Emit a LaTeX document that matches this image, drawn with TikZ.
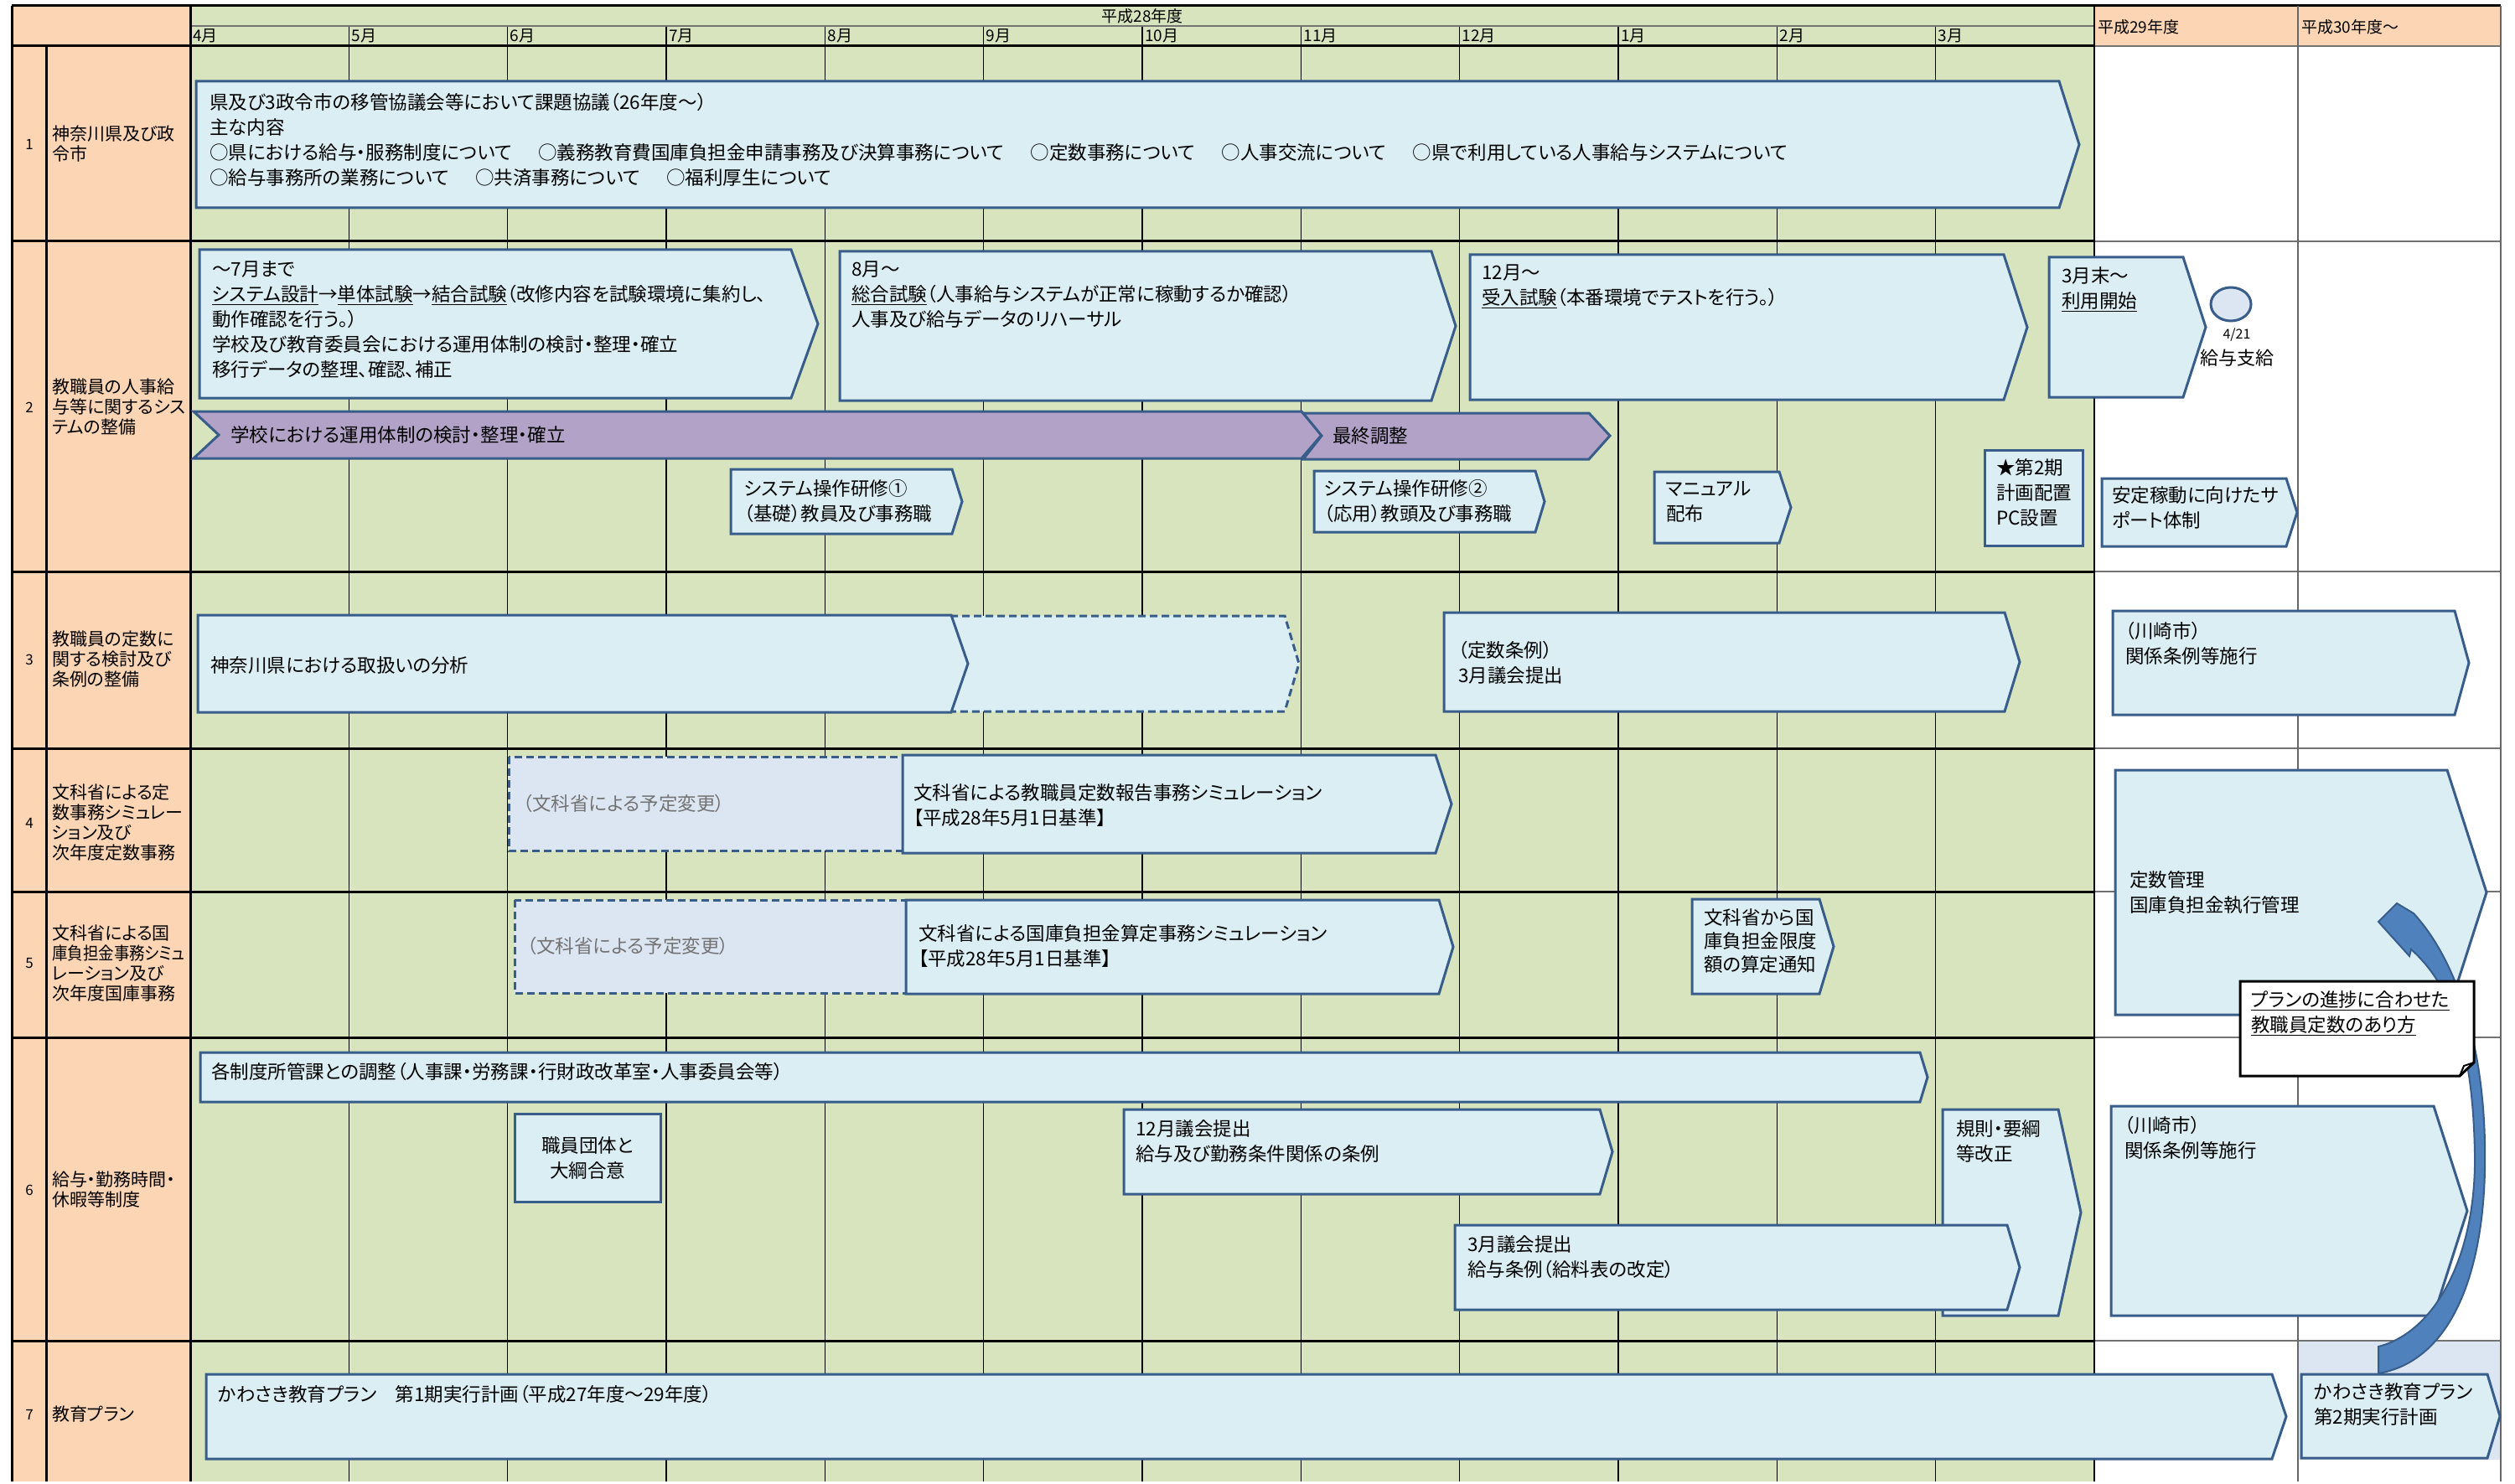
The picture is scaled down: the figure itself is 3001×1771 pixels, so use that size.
\documentclass[tikz,border=0pt]{standalone}
\usepackage{fontspec}
\setmainfont{Noto Sans CJK JP}[RawFeature=+palt]
\usetikzlibrary{shapes.geometric}
\definecolor{grn}{HTML}{D7E4BD}
\definecolor{peach}{HTML}{FCD5B5}
\definecolor{boxfill}{HTML}{DBEEF4}
\definecolor{boxline}{HTML}{385D8A}
\definecolor{dashfill}{HTML}{DCE6F2}
\definecolor{purp}{HTML}{B3A2C7}
\definecolor{arrblue}{HTML}{4F81BD}
\newcommand\pentbox[6][bar]{\draw[#1] (#2,#3) -- (#4,#3) -- (#5,{(#3+#6)/2}) -- (#4,#6) -- (#2,#6) -- cycle;}
\newcommand\gap{\hspace{1.4em}}
\begin{document}
\begin{tikzpicture}[x=1pt, y=-1pt,
    bar/.style={fill=boxfill, draw=boxline, line width=3pt, line join=miter},
    dbar/.style={bar, dash pattern=on 9pt off 5pt},
    chev/.style={bar, fill=purp},
    txt/.style={anchor=west, align=left, inner sep=0pt, font=\fontsize{22.5}{30}\selectfont},
    lab/.style={txt, font=\fontsize{21}{24}\selectfont},
    hd/.style={anchor=west, inner sep=0pt, font=\fontsize{19}{22}\selectfont},
    num/.style={inner sep=0pt, font=\fontsize{17}{20}\selectfont}]
\useasboundingbox (0,0) rectangle (3001,1771);
\fill[white] (0,0) rectangle (3001,1771);
\fill[peach] (14,7) rectangle (227,1768);
\fill[grn] (227,7) rectangle (2499,1768);
\fill[peach] (2499,7) rectangle (2984,55);
\fill[dashfill] (2742,1600) rectangle (2984,1742);
\foreach \i in {1,...,11}
    \draw[line width=1.3pt] ({227+189.33*\i},31) -- ({227+189.33*\i},1768);
\foreach \y in {55,288,682,893,1064,1238,1600}
{
    \draw[line width=3pt] (14,\y) -- (2499,\y);
    \draw[line width=2pt, black!55] (2499,\y) -- (2984,\y);
}
\draw[line width=2pt, black!55] (227,31) -- (2499,31);
\draw[line width=3pt] (14,7) -- (2984,7);
\draw[line width=3pt] (14,7) -- (14,1768) (227,7) -- (227,1768) (55,55) -- (55,1768);
\draw[line width=2pt] (2499,7) -- (2499,1768);
\draw[line width=1.5pt, black!60] (2742,7) -- (2742,1768) (2984,7) -- (2984,1768);
\node[hd, anchor=center] (fy28) at (1363,19) {平成28年度};
\node[hd] (fy29) at (2503,32) {平成29年度};
\node[hd] (fy30) at (2746,32) {平成30年度～};
\foreach \m [count=\i from 0] in {4,5,6,7,8,9,10,11,12,1,2,3}
    \node[hd] (m\i) at ({230+189.33*\i},43) {{\m}月};
\foreach \n/\y/\t in {1/172/{神奈川県及び政\\令市},
    2/486/{教職員の人事給\\与等に関するシス\\テムの整備},
    3/787/{教職員の定数に\\関する検討及び\\条例の整備},
    4/982/{文科省による定\\数事務シミュレー\\ション及び\\次年度定数事務},
    5/1150/{文科省による国\\\scalebox{0.88}[1]{庫負担金事務シミュ}\\レーション及び\\次年度国庫事務},
    6/1420/{給与・勤務時間・\\休暇等制度},
    7/1688/{教育プラン}}
{
    \node[num] (n\n) at (35,\y) {\n};
    \node[lab] (l\n) at (62,\y) {\t};
}
\pentbox{234}{97}{2457}{2481}{248}
\node[txt] (kyogi) at (250,167) {県及び3政令市の移管協議会等において課題協議（26年度～）\\主な内容\\○県における給与・服務制度について\gap○義務教育費国庫負担金申請事務及び決算事務について\gap○定数事務について\gap○人事交流について\gap○県で利用している人事給与システムについて\\○給与事務所の業務について\gap○共済事務について\gap○福利厚生について};
\pentbox{238}{298}{944}{976}{475}
\node[txt] (sekkei) at (253,382) {～7月まで\\\underline{システム設計}→\underline{単体試験}→\underline{結合試験}（改修内容を試験環境に集約し、\\動作確認を行う。）\\学校及び教育委員会における運用体制の検討・整理・確立\\移行データの整理、確認、補正};
\draw[chev] (231,491) -- (1553,491) -- (1577,519) -- (1553,547) -- (231,547) -- (261,519) -- cycle;
\draw[chev] (1555,493) -- (1896,493) -- (1921,520) -- (1896,548) -- (1555,548) -- (1577,520) -- cycle;
\node[txt] (unyo) at (275,519) {学校における運用体制の検討・整理・確立};
\node[txt] (saishu) at (1590,520) {最終調整};
\pentbox{1002}{300}{1708}{1737}{478}
\node[txt] (sogo) at (1016,352) {8月～\\\underline{総合試験}（人事給与システムが正常に稼動するか確認）\\人事及び給与データのリハーサル};
\pentbox{1754}{304}{2391}{2419}{477}
\node[txt] (ukeire) at (1768,342) {12月～\\\underline{受入試験}（本番環境でテストを行う。）};
\pentbox{2445}{307}{2605}{2632}{474}
\node[txt] (riyo) at (2460,345) {3月末～\\\underline{利用開始}};
\node[draw=boxline, fill=dashfill, line width=3pt, ellipse, minimum width=48pt, minimum height=40pt, inner sep=0pt] (pay) at (2662,363) {};
\node[num, font=\fontsize{16}{18}\selectfont] (payday) at (2669,400) {4/21};
\node[num, font=\fontsize{22}{24}\selectfont] (kyuyo) at (2669,427) {給与支給};
\pentbox{872}{560}{1136}{1148}{637}
\node[txt] (kenshu1) at (888,598) {システム操作研修①\\（基礎）教員及び事務職};
\pentbox{1568}{562}{1832}{1843}{635}
\node[txt] (kenshu2) at (1580,598) {システム操作研修②\\（応用）教頭及び事務職};
\pentbox{1974}{563}{2123}{2137}{648}
\node[txt] (manual) at (1988,599) {マニュアル\\配布};
\draw[bar] (2368,537) rectangle (2485,651);
\node[txt] (pc) at (2382,588) {★第2期\\計画配置\\PC設置};
\pentbox{2508}{571}{2728}{2741}{652}
\node[txt] (support) at (2520,606) {安定稼動に向けたサ\\ポート体制};
\pentbox[dbar]{1120}{735}{1533}{1550}{849}
\pentbox{236}{734}{1135}{1155}{850}
\node[txt] (bunseki) at (251,794) {神奈川県における取扱いの分析};
\pentbox{1723}{731}{2392}{2410}{849}
\node[txt] (jorei) at (1740,791) {（定数条例）\\3月議会提出};
\pentbox{2521}{729}{2929}{2946}{853}
\node[txt] (sekou3) at (2536,768) {（川崎市）\\関係条例等施行};
\draw[dbar, fill=dashfill] (607,903) rectangle (1077,1015);
\node[txt, text=black!55] (henko4) at (624,959) {（文科省による予定変更）};
\pentbox{1077}{901}{1713}{1732}{1018}
\node[txt] (teisu) at (1090,961) {文科省による教職員定数報告事務シミュレーション\\【平成28年5月1日基準】};
\pentbox{2524}{919}{2920}{2967}{1211}
\node[txt] (kanri) at (2541,1065) {定数管理\\国庫負担金執行管理};
\draw[dbar, fill=dashfill] (614,1074) rectangle (1081,1185);
\node[txt, text=black!55] (henko5) at (629,1129) {（文科省による予定変更）};
\pentbox{1081}{1074}{1717}{1734}{1186}
\node[txt] (santei) at (1096,1129) {文科省による国庫負担金算定事務シミュレーション\\【平成28年5月1日基準】};
\pentbox{2019}{1073}{2171}{2188}{1186}
\node[txt, font=\fontsize{22.5}{28}\selectfont] (tsuchi) at (2033,1123) {文科省から国\\庫負担金限度\\額の算定通知};
\pentbox{239}{1256}{2291}{2300}{1315}
\node[txt] (chosei) at (252,1279) {各制度所管課との調整（人事課・労務課・行財政改革室・人事委員会等）};
\draw[bar] (614,1329) rectangle (788,1434);
\node[txt, anchor=center, align=center] (goi) at (701,1382) {職員団体と\\大綱合意};
\pentbox{1341}{1324}{1909}{1924}{1425}
\node[txt] (gikai12) at (1355,1362) {12月議会提出\\給与及び勤務条件関係の条例};
\pentbox{2318}{1324}{2456}{2483}{1570}
\node[txt] (kisoku) at (2334,1362) {規則・要綱\\等改正};
\pentbox{1736}{1462}{2395}{2410}{1563}
\node[txt] (gikai3) at (1751,1500) {3月議会提出\\給与条例（給料表の改定）};
\pentbox{2519}{1320}{2904}{2944}{1570}
\node[txt] (sekou6) at (2535,1358) {（川崎市）\\関係条例等施行};
\pentbox{246}{1640}{2711}{2728}{1741}
\node[txt] (plan1) at (260,1664) {かわさき教育プラン\hspace{1em}第1期実行計画（平成27年度～29年度）};
\pentbox{2746}{1640}{2968}{2983}{1740}
\node[txt] (plan2) at (2761,1676) {かわさき教育プラン\\第2期実行計画};
\filldraw[fill=arrblue, draw=boxline, line width=2pt] (2860,1078) -- (2880,1090) .. controls (2935,1150) and (2968,1260) .. (2965,1397) .. controls (2962,1530) and (2920,1625) .. (2838,1639) -- (2838,1607) .. controls (2905,1590) and (2955,1500) .. (2953,1377) .. controls (2951,1260) and (2930,1180) .. (2877,1133) -- (2875,1141) -- (2838,1100) -- cycle;
\filldraw[fill=white, draw=black, line width=3pt] (2673,1171) -- (2952,1171) -- (2952,1268) -- (2935,1284) -- (2673,1284) -- cycle;
\draw[line width=2pt] (2935,1284) -- (2940,1272) -- (2952,1268);
\node[txt] (arikata) at (2686,1209) {\underline{プランの進捗に合わせた}\\\underline{教職員定数のあり方}};
\end{tikzpicture}
\end{document}
